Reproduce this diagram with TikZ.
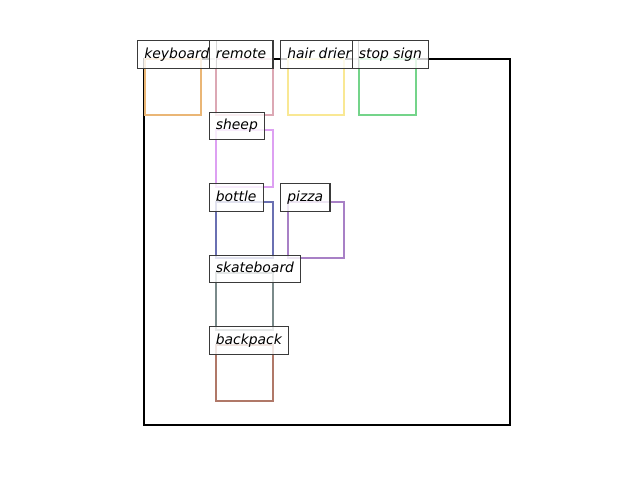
\documentclass[tikz,border=0pt]{standalone}
\usepackage{fontspec}
\setmainfont{DejaVu Sans}
\definecolor{ckeyboard}{HTML}{EAB676}
\definecolor{cremote}{HTML}{DCA8B4}
\definecolor{chair}{HTML}{F9E894}
\definecolor{cstop}{HTML}{74D48A}
\definecolor{csheep}{HTML}{DDA0F2}
\definecolor{cbottle}{HTML}{6A70B2}
\definecolor{cpizza}{HTML}{A880C6}
\definecolor{cskate}{HTML}{7A8A8A}
\definecolor{cback}{HTML}{B07868}
\definecolor{lblborder}{HTML}{3A3A3A}
\tikzset{
  objbox/.style={draw=#1, line width=1.44pt, minimum width=41pt, minimum height=41pt, inner sep=0pt, outer sep=0pt, anchor=north west},
  lbl/.style={draw=lblborder, line width=0.85pt, fill=white, fill opacity=0.8, text opacity=1,
    anchor=west, inner xsep=4.9pt, inner ysep=5pt, text height=7.6pt, text depth=2.4pt,
    font=\fontsize{10}{12}\selectfont\itshape},
  frame/.style={draw=black, line width=1.44pt}
}
\begin{document}
\begin{tikzpicture}[x=0.72pt,y=-0.72pt]
\useasboundingbox (0,0) rectangle (640,480);
\draw[frame] (144,59) rectangle (510,425);
\foreach \c/\r/\col/\txt/\nm in {
  3/0/cstop/stop sign/ss,
  2/0/chair/hair drier/hd,
  1/0/cremote/remote/rm,
  0/0/ckeyboard/keyboard/kb,
  1/1/csheep/sheep/sh,
  1/2/cbottle/bottle/bt,
  2/2/cpizza/pizza/pz,
  1/3/cskate/skateboard/sk,
  1/4/cback/backpack/bp}{
  \pgfmathsetmacro{\bx}{144.5+71.5*\c}
  \pgfmathsetmacro{\by}{58.5+71.5*\r}
  \node[objbox=\col] (box\nm) at (\bx,\by) {};
}
\foreach \c/\r/\txt/\nm in {
  0/0/keyboard/kb,
  1/0/remote/rm,
  2/0/hair drier/hd,
  3/0/stop sign/ss,
  1/1/sheep/sh,
  1/2/bottle/bt,
  2/2/pizza/pz,
  1/3/skateboard/sk,
  1/4/backpack/bp}{
  \pgfmathsetmacro{\bx}{144+71.5*\c}
  \pgfmathsetmacro{\by}{59+71.5*\r}
  \node[lbl] (lbl\nm) at (\bx-7,\by-4.5) {\txt};
}
\end{tikzpicture}
\end{document}
